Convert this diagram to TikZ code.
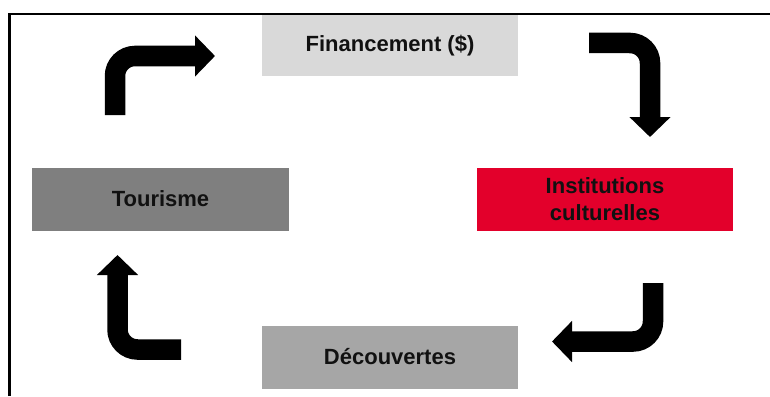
\documentclass[tikz,border=0pt]{standalone}
\usepackage{fontspec}
\setmainfont{Liberation Sans}
\usetikzlibrary{arrows.meta}
\definecolor{finc}{HTML}{D9D9D9}
\definecolor{decc}{HTML}{A6A6A6}
\definecolor{tourc}{HTML}{7F7F7F}
\definecolor{instc}{HTML}{E3002B}
\definecolor{txt}{HTML}{111111}
\tikzset{
  stagebox/.style={minimum width=256pt, minimum height=63pt, inner sep=0pt, align=center,
    font=\fontsize{22}{27}\selectfont\bfseries, text=txt},
  bentarrow/.style={line width=20.5pt, rounded corners=20pt, black,
    -{Triangle[length=20pt,width=40pt]}},
  frameline/.style={line width=2.2pt, black}
}
\begin{document}
\begin{tikzpicture}[x=1pt,y=-1pt]
\useasboundingbox (0,0) rectangle (770,396);
\draw[frameline] (9.5,396) -- (9.5,14) -- (770,14);
\node[stagebox, fill=finc, minimum height=61pt] (fin) at (390,45.5) {Financement (\$)};
\node[stagebox, fill=instc] (inst) at (605,199) {Institutions\\culturelles};
\node[stagebox, fill=decc] (dec) at (390,357) {Découvertes};
\node[stagebox, fill=tourc, minimum width=257pt] (tour) at (160.5,199) {Tourisme};
% arrow endpoints
\coordinate (a1s) at (115,115);
\coordinate (a1e) at (215,56);
\coordinate (a2s) at (589,43);
\coordinate (a2e) at (650,137);
\coordinate (a3s) at (653,283);
\coordinate (a3e) at (552,341.5);
\coordinate (a4s) at (181,349.5);
\coordinate (a4e) at (117.5,255);
\draw[bentarrow] (a1s) |- (a1e);
\draw[bentarrow] (a2s) -| (a2e);
\draw[bentarrow] (a3s) |- (a3e);
\draw[bentarrow] (a4s) -| (a4e);
\end{tikzpicture}
\end{document}
